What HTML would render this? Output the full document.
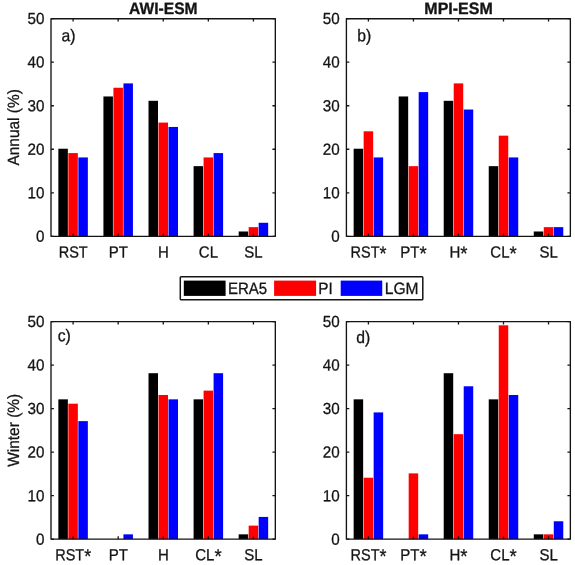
<!DOCTYPE html>
<html lang="en"><head><meta charset="utf-8"><title>Weather regime frequencies</title>
<style>html,body{margin:0;padding:0;background:#fff}body{width:575px;height:565px;overflow:hidden}svg{display:block}</style>
</head><body>
<svg width="575" height="565" viewBox="0 0 575 565" font-family="'Liberation Sans', sans-serif" font-size="15.0" fill="#141414" stroke="#141414" stroke-width="0.27" stroke-linejoin="round" text-rendering="geometricPrecision">
<rect width="575" height="565" fill="#fff" stroke="none"/>
<g>
<rect x="58.35" y="148.73" width="9.50" height="87.57" fill="#000000" stroke="none"/>
<rect x="68.35" y="153.09" width="9.50" height="83.21" fill="#ff0000" stroke="none"/>
<rect x="78.35" y="157.44" width="9.50" height="78.86" fill="#0000ff" stroke="none"/>
<rect x="103.43" y="96.46" width="9.50" height="139.84" fill="#000000" stroke="none"/>
<rect x="113.43" y="87.75" width="9.50" height="148.55" fill="#ff0000" stroke="none"/>
<rect x="123.43" y="83.39" width="9.50" height="152.91" fill="#0000ff" stroke="none"/>
<rect x="148.51" y="100.81" width="9.50" height="135.49" fill="#000000" stroke="none"/>
<rect x="158.51" y="122.59" width="9.50" height="113.71" fill="#ff0000" stroke="none"/>
<rect x="168.51" y="126.95" width="9.50" height="109.35" fill="#0000ff" stroke="none"/>
<rect x="193.59" y="166.15" width="9.50" height="70.15" fill="#000000" stroke="none"/>
<rect x="203.59" y="157.44" width="9.50" height="78.86" fill="#ff0000" stroke="none"/>
<rect x="213.59" y="153.09" width="9.50" height="83.21" fill="#0000ff" stroke="none"/>
<rect x="238.67" y="231.49" width="9.50" height="4.81" fill="#000000" stroke="none"/>
<rect x="248.67" y="227.14" width="9.50" height="9.16" fill="#ff0000" stroke="none"/>
<rect x="258.67" y="222.78" width="9.50" height="13.52" fill="#0000ff" stroke="none"/>
<rect x="51.0" y="18.7" width="224.33" height="217.60" fill="none" stroke="#141414" stroke-width="1.35"/>
<path d="M73.10 236.3v-2.9M73.10 18.7v2.9M118.18 236.3v-2.9M118.18 18.7v2.9M163.26 236.3v-2.9M163.26 18.7v2.9M208.34 236.3v-2.9M208.34 18.7v2.9M253.42 236.3v-2.9M253.42 18.7v2.9M51.0 236.30h2.9M275.33 236.30h-2.9M51.0 192.78h2.9M275.33 192.78h-2.9M51.0 149.26h2.9M275.33 149.26h-2.9M51.0 105.74h2.9M275.33 105.74h-2.9M51.0 62.22h2.9M275.33 62.22h-2.9M51.0 18.70h2.9M275.33 18.70h-2.9" stroke="#141414" stroke-width="1.3" fill="none"/>
<text transform="translate(44.45 241.85) rotate(0.03) scale(1.015 1.07)" text-anchor="end">0</text>
<text transform="translate(44.45 198.28) rotate(0.03) scale(1.015 1.07)" text-anchor="end">10</text>
<text transform="translate(44.45 154.71) rotate(0.03) scale(1.015 1.07)" text-anchor="end">20</text>
<text transform="translate(44.45 111.14) rotate(0.03) scale(1.015 1.07)" text-anchor="end">30</text>
<text transform="translate(44.45 67.57) rotate(0.03) scale(1.015 1.07)" text-anchor="end">40</text>
<text transform="translate(44.45 24.00) rotate(0.03) scale(1.015 1.07)" text-anchor="end">50</text>
<text transform="translate(73.20 257.50) rotate(0.03) scale(0.965 1.07)" text-anchor="middle">RST</text>
<text transform="translate(118.28 257.50) rotate(0.03) scale(1.0 1.07)" text-anchor="middle">PT</text>
<text transform="translate(163.36 257.50) rotate(0.03) scale(1.0 1.07)" text-anchor="middle">H</text>
<text transform="translate(208.44 257.50) rotate(0.03) scale(1.0 1.07)" text-anchor="middle">CL</text>
<text transform="translate(253.52 257.50) rotate(0.03) scale(1.0 1.07)" text-anchor="middle">SL</text>
<text transform="translate(61.40 41.30) rotate(0.03) scale(1.05 1.13)">a)</text>
<text transform="translate(163.31 14.05) rotate(0.03) scale(1.04 1.10)" text-anchor="middle" font-weight="bold" stroke-width="0.3">AWI-ESM</text>
</g>
<g>
<rect x="353.65" y="148.73" width="9.50" height="87.57" fill="#000000" stroke="none"/>
<rect x="363.65" y="131.31" width="9.50" height="104.99" fill="#ff0000" stroke="none"/>
<rect x="373.65" y="157.44" width="9.50" height="78.86" fill="#0000ff" stroke="none"/>
<rect x="398.68" y="96.46" width="9.50" height="139.84" fill="#000000" stroke="none"/>
<rect x="408.68" y="166.15" width="9.50" height="70.15" fill="#ff0000" stroke="none"/>
<rect x="418.68" y="92.10" width="9.50" height="144.20" fill="#0000ff" stroke="none"/>
<rect x="443.71" y="100.81" width="9.50" height="135.49" fill="#000000" stroke="none"/>
<rect x="453.71" y="83.39" width="9.50" height="152.91" fill="#ff0000" stroke="none"/>
<rect x="463.71" y="109.53" width="9.50" height="126.77" fill="#0000ff" stroke="none"/>
<rect x="488.74" y="166.15" width="9.50" height="70.15" fill="#000000" stroke="none"/>
<rect x="498.74" y="135.66" width="9.50" height="100.64" fill="#ff0000" stroke="none"/>
<rect x="508.74" y="157.44" width="9.50" height="78.86" fill="#0000ff" stroke="none"/>
<rect x="533.77" y="231.49" width="9.50" height="4.81" fill="#000000" stroke="none"/>
<rect x="543.77" y="227.14" width="9.50" height="9.16" fill="#ff0000" stroke="none"/>
<rect x="553.77" y="227.14" width="9.50" height="9.16" fill="#0000ff" stroke="none"/>
<rect x="346.4" y="18.7" width="223.95" height="217.60" fill="none" stroke="#141414" stroke-width="1.35"/>
<path d="M368.40 236.3v-2.9M368.40 18.7v2.9M413.43 236.3v-2.9M413.43 18.7v2.9M458.46 236.3v-2.9M458.46 18.7v2.9M503.49 236.3v-2.9M503.49 18.7v2.9M548.52 236.3v-2.9M548.52 18.7v2.9M346.4 236.30h2.9M570.35 236.30h-2.9M346.4 192.78h2.9M570.35 192.78h-2.9M346.4 149.26h2.9M570.35 149.26h-2.9M346.4 105.74h2.9M570.35 105.74h-2.9M346.4 62.22h2.9M570.35 62.22h-2.9M346.4 18.70h2.9M570.35 18.70h-2.9" stroke="#141414" stroke-width="1.3" fill="none"/>
<text transform="translate(339.75 241.85) rotate(0.03) scale(1.015 1.07)" text-anchor="end">0</text>
<text transform="translate(339.75 198.28) rotate(0.03) scale(1.015 1.07)" text-anchor="end">10</text>
<text transform="translate(339.75 154.71) rotate(0.03) scale(1.015 1.07)" text-anchor="end">20</text>
<text transform="translate(339.75 111.14) rotate(0.03) scale(1.015 1.07)" text-anchor="end">30</text>
<text transform="translate(339.75 67.57) rotate(0.03) scale(1.015 1.07)" text-anchor="end">40</text>
<text transform="translate(339.75 24.00) rotate(0.03) scale(1.015 1.07)" text-anchor="end">50</text>
<text transform="translate(368.50 257.50) rotate(0.03) scale(0.965 1.07)" text-anchor="middle">RST<tspan font-size="18.6" dy="2.5">*</tspan></text>
<text transform="translate(413.53 257.50) rotate(0.03) scale(1.0 1.07)" text-anchor="middle">PT<tspan font-size="18.6" dy="2.5">*</tspan></text>
<text transform="translate(458.56 257.50) rotate(0.03) scale(1.0 1.07)" text-anchor="middle">H<tspan font-size="18.6" dy="2.5">*</tspan></text>
<text transform="translate(503.59 257.50) rotate(0.03) scale(1.0 1.07)" text-anchor="middle">CL<tspan font-size="18.6" dy="2.5">*</tspan></text>
<text transform="translate(548.62 257.50) rotate(0.03) scale(1.0 1.07)" text-anchor="middle">SL</text>
<text transform="translate(357.30 41.30) rotate(0.03) scale(1.05 1.13)">b)</text>
<text transform="translate(458.52 14.05) rotate(0.03) scale(1.065 1.10)" text-anchor="middle" font-weight="bold" stroke-width="0.3">MPI-ESM</text>
</g>
<g>
<rect x="58.35" y="399.34" width="9.50" height="139.81" fill="#000000" stroke="none"/>
<rect x="68.35" y="403.69" width="9.50" height="135.45" fill="#ff0000" stroke="none"/>
<rect x="78.35" y="421.12" width="9.50" height="118.03" fill="#0000ff" stroke="none"/>
<rect x="123.43" y="534.34" width="9.50" height="4.81" fill="#0000ff" stroke="none"/>
<rect x="148.51" y="373.21" width="9.50" height="165.94" fill="#000000" stroke="none"/>
<rect x="158.51" y="394.99" width="9.50" height="144.16" fill="#ff0000" stroke="none"/>
<rect x="168.51" y="399.34" width="9.50" height="139.81" fill="#0000ff" stroke="none"/>
<rect x="193.59" y="399.34" width="9.50" height="139.81" fill="#000000" stroke="none"/>
<rect x="203.59" y="390.63" width="9.50" height="148.52" fill="#ff0000" stroke="none"/>
<rect x="213.59" y="373.21" width="9.50" height="165.94" fill="#0000ff" stroke="none"/>
<rect x="238.67" y="534.34" width="9.50" height="4.81" fill="#000000" stroke="none"/>
<rect x="248.67" y="525.63" width="9.50" height="13.51" fill="#ff0000" stroke="none"/>
<rect x="258.67" y="516.92" width="9.50" height="22.23" fill="#0000ff" stroke="none"/>
<rect x="51.0" y="321.6" width="224.33" height="217.55" fill="none" stroke="#141414" stroke-width="1.35"/>
<path d="M73.10 539.15v-2.9M73.10 321.6v2.9M118.18 539.15v-2.9M118.18 321.6v2.9M163.26 539.15v-2.9M163.26 321.6v2.9M208.34 539.15v-2.9M208.34 321.6v2.9M253.42 539.15v-2.9M253.42 321.6v2.9M51.0 539.15h2.9M275.33 539.15h-2.9M51.0 495.64h2.9M275.33 495.64h-2.9M51.0 452.13h2.9M275.33 452.13h-2.9M51.0 408.62h2.9M275.33 408.62h-2.9M51.0 365.11h2.9M275.33 365.11h-2.9M51.0 321.60h2.9M275.33 321.60h-2.9" stroke="#141414" stroke-width="1.3" fill="none"/>
<text transform="translate(44.45 544.70) rotate(0.03) scale(1.015 1.07)" text-anchor="end">0</text>
<text transform="translate(44.45 501.15) rotate(0.03) scale(1.015 1.07)" text-anchor="end">10</text>
<text transform="translate(44.45 457.60) rotate(0.03) scale(1.015 1.07)" text-anchor="end">20</text>
<text transform="translate(44.45 414.05) rotate(0.03) scale(1.015 1.07)" text-anchor="end">30</text>
<text transform="translate(44.45 370.50) rotate(0.03) scale(1.015 1.07)" text-anchor="end">40</text>
<text transform="translate(44.45 326.95) rotate(0.03) scale(1.015 1.07)" text-anchor="end">50</text>
<text transform="translate(73.20 560.20) rotate(0.03) scale(0.965 1.07)" text-anchor="middle">RST<tspan font-size="18.6" dy="2.5">*</tspan></text>
<text transform="translate(118.28 560.20) rotate(0.03) scale(1.0 1.07)" text-anchor="middle">PT</text>
<text transform="translate(163.36 560.20) rotate(0.03) scale(1.0 1.07)" text-anchor="middle">H</text>
<text transform="translate(208.44 560.20) rotate(0.03) scale(1.0 1.07)" text-anchor="middle">CL<tspan font-size="18.6" dy="2.5">*</tspan></text>
<text transform="translate(253.52 560.20) rotate(0.03) scale(1.0 1.07)" text-anchor="middle">SL</text>
<text transform="translate(57.70 341.20) rotate(0.03) scale(1.05 1.13)">c)</text>
</g>
<g>
<rect x="353.65" y="399.34" width="9.50" height="139.81" fill="#000000" stroke="none"/>
<rect x="363.65" y="477.73" width="9.50" height="61.42" fill="#ff0000" stroke="none"/>
<rect x="373.65" y="412.41" width="9.50" height="126.74" fill="#0000ff" stroke="none"/>
<rect x="408.68" y="473.38" width="9.50" height="65.77" fill="#ff0000" stroke="none"/>
<rect x="418.68" y="534.34" width="9.50" height="4.81" fill="#0000ff" stroke="none"/>
<rect x="443.71" y="373.21" width="9.50" height="165.94" fill="#000000" stroke="none"/>
<rect x="453.71" y="434.18" width="9.50" height="104.97" fill="#ff0000" stroke="none"/>
<rect x="463.71" y="386.28" width="9.50" height="152.87" fill="#0000ff" stroke="none"/>
<rect x="488.74" y="399.34" width="9.50" height="139.81" fill="#000000" stroke="none"/>
<rect x="498.74" y="325.31" width="9.50" height="213.84" fill="#ff0000" stroke="none"/>
<rect x="508.74" y="394.99" width="9.50" height="144.16" fill="#0000ff" stroke="none"/>
<rect x="533.77" y="534.34" width="9.50" height="4.81" fill="#000000" stroke="none"/>
<rect x="543.77" y="534.34" width="9.50" height="4.81" fill="#ff0000" stroke="none"/>
<rect x="553.77" y="521.28" width="9.50" height="17.87" fill="#0000ff" stroke="none"/>
<rect x="346.4" y="321.6" width="223.95" height="217.55" fill="none" stroke="#141414" stroke-width="1.35"/>
<path d="M368.40 539.15v-2.9M368.40 321.6v2.9M413.43 539.15v-2.9M413.43 321.6v2.9M458.46 539.15v-2.9M458.46 321.6v2.9M503.49 539.15v-2.9M503.49 321.6v2.9M548.52 539.15v-2.9M548.52 321.6v2.9M346.4 539.15h2.9M570.35 539.15h-2.9M346.4 495.64h2.9M570.35 495.64h-2.9M346.4 452.13h2.9M570.35 452.13h-2.9M346.4 408.62h2.9M570.35 408.62h-2.9M346.4 365.11h2.9M570.35 365.11h-2.9M346.4 321.60h2.9M570.35 321.60h-2.9" stroke="#141414" stroke-width="1.3" fill="none"/>
<text transform="translate(339.75 544.70) rotate(0.03) scale(1.015 1.07)" text-anchor="end">0</text>
<text transform="translate(339.75 501.15) rotate(0.03) scale(1.015 1.07)" text-anchor="end">10</text>
<text transform="translate(339.75 457.60) rotate(0.03) scale(1.015 1.07)" text-anchor="end">20</text>
<text transform="translate(339.75 414.05) rotate(0.03) scale(1.015 1.07)" text-anchor="end">30</text>
<text transform="translate(339.75 370.50) rotate(0.03) scale(1.015 1.07)" text-anchor="end">40</text>
<text transform="translate(339.75 326.95) rotate(0.03) scale(1.015 1.07)" text-anchor="end">50</text>
<text transform="translate(368.50 560.20) rotate(0.03) scale(0.965 1.07)" text-anchor="middle">RST<tspan font-size="18.6" dy="2.5">*</tspan></text>
<text transform="translate(413.53 560.20) rotate(0.03) scale(1.0 1.07)" text-anchor="middle">PT<tspan font-size="18.6" dy="2.5">*</tspan></text>
<text transform="translate(458.56 560.20) rotate(0.03) scale(1.0 1.07)" text-anchor="middle">H<tspan font-size="18.6" dy="2.5">*</tspan></text>
<text transform="translate(503.59 560.20) rotate(0.03) scale(1.0 1.07)" text-anchor="middle">CL<tspan font-size="18.6" dy="2.5">*</tspan></text>
<text transform="translate(548.62 560.20) rotate(0.03) scale(1.0 1.07)" text-anchor="middle">SL</text>
<text transform="translate(356.30 343.10) rotate(0.03) scale(1.05 1.13)">d)</text>
</g>
<text transform="translate(19.1 127.4) rotate(-90.03) scale(1.03 1.08)" text-anchor="middle">Annual (%)</text>
<text transform="translate(19.1 430.3) rotate(-90.03) scale(1.03 1.08)" text-anchor="middle">Winter (%)</text>
<rect x="180.3" y="276.7" width="242.50" height="23.10" rx="0.8" fill="#fff" stroke="#141414" stroke-width="1.5"/>
<rect x="183.8" y="280.6" width="41.80" height="15.3" fill="#000000" stroke="none"/>
<rect x="274.1" y="280.6" width="42.00" height="15.3" fill="#ff0000" stroke="none"/>
<rect x="340.7" y="280.6" width="41.55" height="15.3" fill="#0000ff" stroke="none"/>
<text transform="translate(228.0 293.95) rotate(0.03) scale(1.0 1.10)">ERA5</text>
<text transform="translate(318.2 293.95) rotate(0.03) scale(1.02 1.10)">PI</text>
<text transform="translate(384.8 293.95) rotate(0.03) scale(1.04 1.10)">LGM</text>
</svg>
</body></html>
